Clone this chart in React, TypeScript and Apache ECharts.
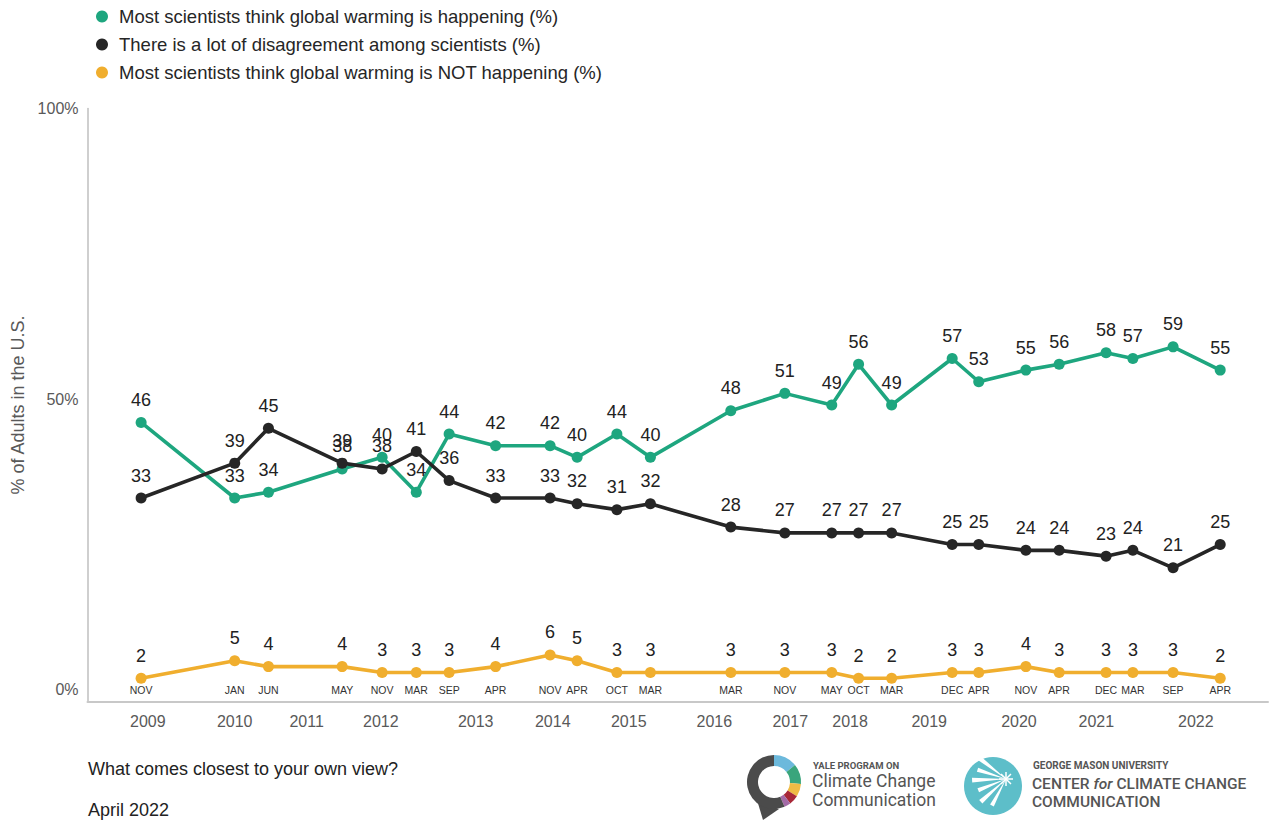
import React, { useEffect, useRef } from "react";
import * as echarts from "echarts";

// Survey fielding dates (as placed on the time line) and their month labels
const surveyDates = [
  "2008-11-15", "2010-01-14", "2010-06-15", "2011-05-15", "2011-11-14",
  "2012-04-17", "2012-09-14", "2013-04-12", "2013-12-16", "2014-04-17",
  "2014-10-15", "2015-03-15", "2016-03-15", "2016-11-17", "2017-06-17",
  "2017-10-17", "2018-03-15", "2018-12-16", "2019-04-15", "2019-11-16",
  "2020-04-15", "2020-11-15", "2021-03-15", "2021-09-15", "2022-04-16",
];
const monthLabels = [
  "NOV", "JAN", "JUN", "MAY", "NOV", "MAR", "SEP", "APR", "NOV", "APR",
  "OCT", "MAR", "MAR", "NOV", "MAY", "OCT", "MAR", "DEC", "APR", "NOV",
  "APR", "DEC", "MAR", "SEP", "APR",
];

const happening = [46, 33, 34, 38, 40, 34, 44, 42, 42, 40, 44, 40, 48, 51, 49, 56, 49, 57, 53, 55, 56, 58, 57, 59, 55];
const disagreement = [33, 39, 45, 39, 38, 41, 36, 33, 33, 32, 31, 32, 28, 27, 27, 27, 27, 25, 25, 24, 24, 23, 24, 21, 25];
const notHappening = [2, 5, 4, 4, 3, 3, 3, 4, 6, 5, 3, 3, 3, 3, 3, 2, 2, 3, 3, 4, 3, 3, 3, 3, 2];

// Year labels under the axis and where they sit on the time line
const yearLabels = ["2009", "2010", "2011", "2012", "2013", "2014", "2015", "2016", "2017", "2018", "2019", "2020", "2021", "2022"];
const yearLabelDates = [
  "2008-12-15", "2010-01-14", "2010-12-06", "2011-11-08", "2013-01-13",
  "2013-12-28", "2014-12-08", "2016-01-01", "2016-12-11", "2017-09-09",
  "2018-09-03", "2019-10-15", "2020-10-01", "2021-12-27",
];
const yTickValues = [0, 50, 100];
const axisStart = "2008-03-15";
const axisEnd = "2022-11-20";

const seriesNames = [
  "Most scientists think global warming is happening (%)",
  "There is a lot of disagreement among scientists (%)",
  "Most scientists think global warming is NOT happening (%)",
];
const seriesColors = ["#1ea67f", "#262626", "#f0ae2e"];

const FONT = "'Liberation Sans', Arial, Helvetica, sans-serif";
const LOGO_FONT = "Roboto, 'Liberation Sans', sans-serif";

// date string -> decimal year
function dy(s: string): number {
  const [y, m, d] = s.split("-").map(Number);
  return y + (m - 1) / 12 + (d - 1) / (12 * 30.44);
}

const surveyX = surveyDates.map(dy);
const yearX = yearLabelDates.map(dy);

function findLabel(xs: number[], labels: string[], v: number): string {
  for (let i = 0; i < xs.length; i++) {
    if (Math.abs(xs[i] - v) < 1e-4) return labels[i];
  }
  return "";
}

const deg = (d: number) => (d * Math.PI) / 180;

function buildLogos(): any[] {
  const cx = 774, cy = 782, r = 27, r0 = 16;
  const segs: [number, number, string][] = [
    [-90, -39, "#6cb9dc"],
    [-39, 4, "#3aa57c"],
    [4, 32, "#efbb45"],
    [32, 53, "#a82838"],
    [53, 67, "#a36aa6"],
    [67, 270, "#4b4b4b"],
  ];
  const els: any[] = [];
  els.push({
    type: "polygon",
    shape: { points: [[757, 800], [763, 820], [779, 809]] },
    style: { fill: "#4b4b4b" },
  });
  segs.forEach(([a, b, c]) => {
    els.push({
      type: "sector",
      shape: { cx, cy, r, r0, startAngle: deg(a), endAngle: deg(b), clockwise: true },
      style: { fill: c },
    });
  });
  els.push(
    { type: "text", x: 813, y: 765, style: { text: "YALE PROGRAM ON", fontSize: 9.5, fontWeight: "bold", fontFamily: LOGO_FONT, fill: "#555", verticalAlign: "middle" } },
    { type: "text", x: 812, y: 781, style: { text: "Climate Change", fontSize: 17.5, lineHeight: 17.5, fontFamily: LOGO_FONT, fill: "#555", verticalAlign: "middle" } },
    { type: "text", x: 812, y: 799.5, style: { text: "Communication", fontSize: 17.5, lineHeight: 17.5, fontFamily: LOGO_FONT, fill: "#555", verticalAlign: "middle" } }
  );
  // GMU logo
  const gx = 993, gy = 786;
  els.push({ type: "circle", shape: { cx: gx, cy: gy, r: 29 }, style: { fill: "#5dbec9" } });
  const fx = 1006, fy = 779;
  [118, 138, 158, 178, 198, 218].forEach((a, i) => {
    const len = 30 + (i % 2) * 4;
    els.push({
      type: "polygon",
      shape: {
        points: [
          [fx, fy],
          [fx + Math.cos(deg(a - 4)) * len, fy + Math.sin(deg(a - 4)) * len],
          [fx + Math.cos(deg(a + 4)) * len, fy + Math.sin(deg(a + 4)) * len],
        ],
      },
      style: { fill: "#ffffff" },
    });
  });
  [0, 45, 90, 135, 180, 225, 270, 315].forEach((a) => {
    els.push({
      type: "line",
      shape: { x1: fx, y1: fy, x2: fx + Math.cos(deg(a)) * 7, y2: fy + Math.sin(deg(a)) * 7 },
      style: { stroke: "#ffffff", lineWidth: 1.5 },
    });
  });
  els.push(
    { type: "text", x: 1033, y: 765, style: { text: "GEORGE MASON UNIVERSITY", fontSize: 10, fontWeight: "bold", fontFamily: LOGO_FONT, fill: "#555", verticalAlign: "middle" } },
    {
      type: "text", x: 1032, y: 784,
      style: {
        text: "{a|CENTER }{b|for}{a| CLIMATE CHANGE}",
        verticalAlign: "middle",
        rich: {
          a: { fontSize: 15.5, fontWeight: 500, fontFamily: LOGO_FONT, fill: "#555" },
          b: { fontSize: 15.5, fontStyle: "italic", fontWeight: 500, fontFamily: LOGO_FONT, fill: "#555" },
        },
      },
    },
    { type: "text", x: 1032, y: 802, style: { text: "COMMUNICATION", fontSize: 15.5, fontWeight: 500, fontFamily: LOGO_FONT, fill: "#555", verticalAlign: "middle" } }
  );
  return els;
}

export default function App() {
  const ref = useRef<HTMLDivElement>(null);

  useEffect(() => {
    if (!ref.current) return;
    const chart = echarts.init(ref.current, undefined, { renderer: "svg" });
    const values = [happening, disagreement, notHappening];
    const series = values.map((vals, k) => ({
      type: "line",
      name: seriesNames[k],
      xAxisIndex: 0,
      yAxisIndex: 0,
      data: vals.map((v, i) => [surveyX[i], v]),
      symbol: "circle",
      symbolSize: 11,
      z: k === 1 ? 4 : 3,
      lineStyle: { width: 3.6, color: seriesColors[k] },
      itemStyle: { color: seriesColors[k] },
      label: {
        show: true,
        position: "top",
        distance: 8,
        fontSize: 18,
        fontFamily: FONT,
        color: "#222222",
      },
      emphasis: { disabled: true },
      silent: true,
    }));

    const xBase = {
      type: "value",
      position: "bottom",
      min: dy(axisStart),
      max: dy(axisEnd),
      axisTick: { show: false },
      splitLine: { show: false },
    };

    const option: any = {
      animation: false,
      backgroundColor: "#ffffff",
      textStyle: { fontFamily: FONT },
      legend: {
        orient: "vertical",
        left: 96,
        top: 7,
        padding: 0,
        itemWidth: 12,
        itemHeight: 12,
        itemGap: 9,
        icon: "circle",
        data: seriesNames,
        selectedMode: false,
        textStyle: { fontSize: 18.5, color: "#262626", fontFamily: FONT, padding: [0, 0, 0, 6] },
      },
      grid: {
        left: 87.5,
        right: 3,
        top: 108.5,
        bottom: 123.5,
        containLabel: false,
        outerBoundsMode: "none",
      },
      xAxis: [
        {
          ...xBase,
          axisLine: { show: true, onZero: false, lineStyle: { color: "#c8c8c8", width: 2 } },
          axisLabel: {
            customValues: surveyX,
            inside: true,
            margin: 6,
            fontSize: 10.5,
            color: "#333333",
            fontFamily: FONT,
            formatter: (v: number) => findLabel(surveyX, monthLabels, v),
          },
        },
        {
          ...xBase,
          axisLine: { show: false, onZero: false },
          axisLabel: {
            customValues: yearX,
            margin: 12,
            fontSize: 16,
            color: "#595959",
            fontFamily: FONT,
            formatter: (v: number) => findLabel(yearX, yearLabels, v),
          },
        },
      ],
      yAxis: {
        type: "value",
        min: -2,
        max: 100,
        name: "% of Adults in the U.S.",
        nameLocation: "middle",
        nameGap: 61,
        nameTextStyle: { fontSize: 18, color: "#595959", fontFamily: FONT },
        axisLine: { show: true, onZero: false, lineStyle: { color: "#bfbfbf", width: 1.5 } },
        axisTick: { show: false },
        splitLine: { show: false },
        axisLabel: {
          customValues: yTickValues,
          margin: 9,
          fontSize: 16,
          color: "#595959",
          fontFamily: FONT,
          formatter: "{value}%",
        },
      },
      graphic: [
        {
          type: "text",
          x: 88,
          y: 769,
          style: { text: "What comes closest to your own view?", fontSize: 18, fontFamily: FONT, fill: "#222", verticalAlign: "middle" },
        },
        {
          type: "text",
          x: 88,
          y: 810,
          style: { text: "April 2022", fontSize: 18, fontFamily: FONT, fill: "#222", verticalAlign: "middle" },
        },
        ...buildLogos(),
      ],
      series,
    };
    chart.setOption(option);
    return () => chart.dispose();
  }, []);

  return (
    <div
      ref={ref}
      style={{ position: "fixed", left: 0, top: 0, width: 1271, height: 825, background: "#fff" }}
    />
  );
}
